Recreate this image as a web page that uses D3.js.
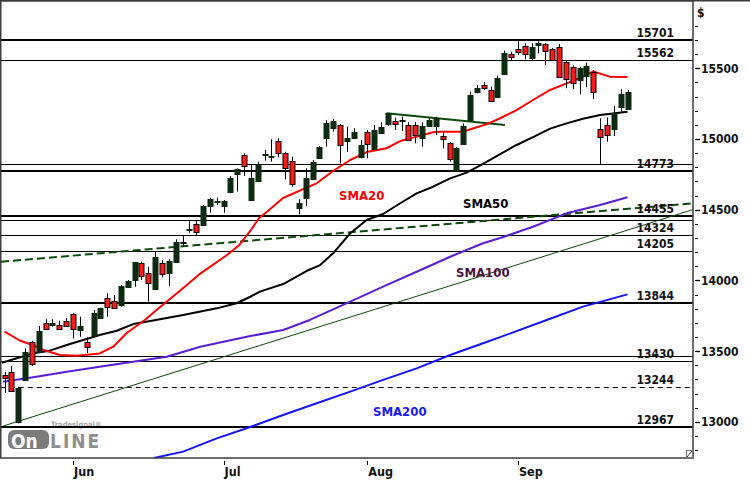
<!DOCTYPE html>
<html><head><meta charset="utf-8">
<script src="https://cdn.jsdelivr.net/npm/d3@7"></script>
<style>
html,body{margin:0;padding:0;background:#fff;}
svg{display:block;}
text{font-family:"DejaVu Sans Condensed","DejaVu Sans",sans-serif;font-stretch:condensed;font-weight:bold;}
</style></head>
<body>
<svg id="c" width="750" height="480"></svg>
<script>
// ---------- data ----------
const opens  = [13332,13355,13001,13296,13567,13496,13697,13683,13685,13714,13763,13655,13567,13615,13733,13874,13857,13827,13956,14000,14121,14051,13945,14121,14051,14133,14274,14357,14397,14392,14522,14557,14529,14628,14751,14887,14569,14706,14887,14875,14986,14899,14845,14515,14590,14722,14864,15005,15080,15099,14980,15009,14875,15048,14930,15048,15104,15127,15135,15099,15099,15009,15094,15087,15024,14970,14781,14965,15135,15335,15382,15347,15299,15458,15601,15637,15658,15578,15660,15670,15634,15649,15547,15511,15417,15446,15476,15069,15099,15069,15229,15217];
const highs  = [13353,13395,13249,13520,13574,13678,13726,13726,13716,13735,13768,13744,13600,13791,13808,13909,13897,13968,14003,14131,14133,14097,14204,14145,14150,14291,14314,14421,14421,14534,14581,14585,14569,14739,14793,14899,14821,14840,14922,14998,15005,14910,14875,14574,14793,14852,14951,15135,15141,15106,15087,15076,14993,15064,15099,15118,15184,15151,15158,15118,15120,15118,15147,15158,15057,14979,14944,15111,15335,15382,15405,15370,15448,15625,15617,15693,15677,15677,15695,15677,15644,15672,15559,15520,15511,15540,15488,15147,15154,15234,15352,15347];
const lows   = [13205,13214,12990,13291,13395,13492,13650,13673,13650,13671,13591,13602,13487,13608,13728,13744,13805,13815,13954,13956,14003,13850,13945,14022,13961,14126,14239,14338,14322,14385,14479,14534,14479,14616,14628,14739,14569,14704,14847,14840,14871,14715,14663,14468,14527,14718,14859,14946,15052,14828,14910,15007,14864,14864,14923,15043,15094,15064,15057,14986,14970,14946,15092,15029,14934,14840,14774,14958,15135,15323,15347,15264,15294,15458,15559,15594,15564,15552,15606,15523,15552,15432,15359,15352,15316,15366,15283,14821,14981,15021,15193,15205];
const closes = [13310,13221,13242,13496,13410,13645,13655,13699,13655,13680,13655,13680,13532,13772,13803,13810,13810,13961,13996,14129,14030,13980,14168,14044,14138,14274,14268,14361,14338,14527,14574,14560,14562,14727,14788,14809,14727,14824,14891,14880,14899,14793,14680,14550,14728,14840,14942,15111,15127,14958,15004,15048,14958,14963,15064,15087,15182,15104,15131,14993,15028,15094,15135,15147,15000,14859,14935,15094,15311,15363,15363,15269,15434,15606,15578,15613,15601,15653,15677,15618,15554,15436,15429,15398,15500,15516,15335,15012,15028,15182,15318,15335];

const monthIdx    = [10, 32, 53, 75];
const monthLabels = ["Jun", "Jul", "Aug", "Sep"];

const sma20Idx = [0,2.3,3.7,5.7,8.1,10.5,13.9,15.9,17.85,20.5,22.2,25.6,28.6,32.5,34.3,35.9,37.2,38.3,40.7,44.1,45.6,48,50.5,52.9,55.8,57.8,60.2,62.6,63.6,67,68.5,70.4,72.4,74.8,77.2,79.7,82.1,84.5,86,88.4,91];
const sma20    = [13638,13574,13551,13509,13473,13468,13484,13532,13629,13721,13791,13926,14049,14180,14251,14350,14442,14484,14583,14657,14687,14774,14852,14908,14935,14986,15017,15048,15052,15052,15076,15104,15147,15205,15276,15347,15394,15441,15478,15441,15439];

const sma50Idx = [-0.4,1.8,4.2,6.6,9.1,11.5,13.9,16.4,18.8,21.3,26.1,31,33.9,35.9,37.3,40.7,44.1,46.1,48,50.5,52.9,55.3,57.8,60.2,62.6,65.1,67.5,69.9,72.4,74.8,77.2,79.7,82.1,84.5,87,91];
const sma50    = [13419,13450,13485,13504,13544,13579,13615,13645,13692,13714,13756,13803,13839,13885,13921,13975,14067,14109,14192,14334,14428,14470,14546,14616,14663,14722,14763,14824,14894,14958,15014,15074,15111,15144,15170,15193];

const sma100Idx = [-0.2,4.2,9.1,13.9,18.8,23.7,28.6,35.9,40.7,44.6,50.5,55.3,60.2,65.1,69.9,72.4,77.2,82.1,87,91];
const sma100    = [13284,13316,13355,13390,13426,13461,13532,13607,13650,13721,13850,13956,14062,14168,14263,14300,14380,14475,14534,14588];

const sma200Idx = [21.8,26.1,31,35.9,40.7,45.6,50.5,55.3,60.2,65.1,69.9,72.4,79.4,84.5,91];
const sma200    = [12745,12790,12884,12964,13049,13132,13214,13297,13379,13473,13556,13600,13724,13815,13902];

const smaNames = ["SMA20", "SMA50", "SMA100", "SMA200"];

// support / resistance levels
const majorLevels  = [15701, 14773, 14455, 13844, 12967];
const minorLevels  = [15562, 14821, 14425, 14324, 14205, 13466, 13430];
const dashedLevels = [13244];
const labelLevels  = [15701, 15562, 14773, 14455, 14324, 14205, 13844, 13430, 13244, 12967];

// trend lines [index, value]
const trendLong  = [[-0.5, 14133], [100.6, 14546]];
const trendThin  = [[-0.2, 12971], [100.6, 14502]];
const trendShort = [[55.8, 15182], [73.1, 15099]];

const majorTicks = [13000, 13500, 14000, 14500, 15000, 15500];
const minorTicks = d3.range(12800, 15801, 100);

// ---------- drawing ----------
const svg = d3.select("#c");
const L = 0.75, R = 693, T = 0.75, B = 458;
const x = d3.scaleLinear().domain([0, 91]).range([4.5, 627.5]);
const y = d3.scaleLinear().domain([12745, 15976]).range([B, 1]);

svg.append("defs").append("clipPath").attr("id", "pc")
  .append("rect").attr("x", L).attr("y", T).attr("width", R - L).attr("height", B - T);

const plot = svg.append("g").attr("clip-path", "url(#pc)");

// watermark logo
const logo = plot.append("g");
logo.append("text").attr("x", 51).attr("y", 427).attr("font-size", 7.5).attr("fill", "#a8a8a8").text("Tradesignal®");
logo.append("rect").attr("x", 8).attr("y", 430).attr("width", 41).attr("height", 19).attr("rx", 6).attr("fill", "#7c7c7c");
logo.append("text").attr("x", 11).attr("y", 447.5).attr("font-size", 19).attr("fill", "#fff").text("On");
logo.append("text").attr("x", 50).attr("y", 447.5).attr("font-size", 19).attr("fill", "#8e8e8e").attr("letter-spacing", 2).text("LINE");

// horizontal levels
const crisp = v => Math.round(y(v)) + 0.5;
plot.selectAll(".lvMaj").data(majorLevels).join("line")
  .attr("x1", L).attr("x2", R).attr("y1", v => Math.round(y(v))).attr("y2", v => Math.round(y(v)))
  .attr("stroke", "#000").attr("stroke-width", 2.2);
plot.selectAll(".lvMin").data(minorLevels).join("line")
  .attr("x1", L).attr("x2", R).attr("y1", crisp).attr("y2", crisp)
  .attr("stroke", "#000").attr("stroke-width", 1);
plot.selectAll(".lvDash").data(dashedLevels).join("line")
  .attr("x1", L).attr("x2", R).attr("y1", crisp).attr("y2", crisp)
  .attr("stroke", "#000").attr("stroke-width", 1).attr("stroke-dasharray", "5,4");

svg.selectAll(".lvLab").data(labelLevels).join("text")
  .attr("x", 674).attr("y", v => Math.round(y(v)) - 3)
  .attr("text-anchor", "end").attr("font-size", 12).attr("fill", "#111")
  .text(v => v);

// trend lines
const tl = d3.line().x(d => x(d[0])).y(d => y(d[1]));
plot.append("path").attr("d", tl(trendThin)).attr("fill", "none").attr("stroke", "#0b4a0b").attr("stroke-width", 1);
plot.append("path").attr("d", tl(trendLong)).attr("fill", "none").attr("stroke", "#0b4a0b").attr("stroke-width", 2).attr("stroke-dasharray", "8,4");
plot.append("path").attr("d", tl(trendShort)).attr("fill", "none").attr("stroke", "#0b4a0b").attr("stroke-width", 2);

// moving averages
const smaLine = d3.line().x(d => x(d[0])).y(d => y(d[1]));
const smaSets = [
  [sma200Idx, sma200, "#1414ff"],
  [sma100Idx, sma100, "#5a1ed2"],
  [sma50Idx, sma50, "#000000"],
  [sma20Idx, sma20, "#ff0000"]
];
smaSets.forEach(([ix, vals, col]) => {
  plot.append("path").attr("d", smaLine(ix.map((k, j) => [k, vals[j]])))
    .attr("fill", "none").attr("stroke", col).attr("stroke-width", 2).attr("stroke-linejoin", "round");
});

// candles
const candles = opens.map((o, i) => ({i, o, h: highs[i], l: lows[i], c: closes[i]}));
const cg = plot.append("g");
cg.selectAll(".wick").data(candles).join("line")
  .attr("x1", d => Math.round(x(d.i)) + 0.5).attr("x2", d => Math.round(x(d.i)) + 0.5)
  .attr("y1", d => y(d.h)).attr("y2", d => y(d.l))
  .attr("stroke", "#000").attr("stroke-width", 1);
cg.selectAll(".body").data(candles).join("rect")
  .attr("x", d => Math.round(x(d.i)) - 2)
  .attr("y", d => Math.round(y(Math.max(d.o, d.c))) + 0.5)
  .attr("width", 5)
  .attr("height", d => Math.max(1, Math.round(Math.abs(y(d.o) - y(d.c)))))
  .attr("fill", d => d.c < d.o ? "#ff1a1a" : "#0c2a10")
  .attr("stroke", d => d.c < d.o ? "#000" : "#0c2a10").attr("stroke-width", 1);

// SMA labels
const smaLabelPos = [[339, 200, "#ff0000"], [463, 208, "#000"], [456, 277, "#4a1046"], [373, 416, "#1a1aff"]];
svg.selectAll(".smaLab").data(smaNames).join("text")
  .attr("x", (d, k) => smaLabelPos[k][0]).attr("y", (d, k) => smaLabelPos[k][1])
  .attr("font-size", 13).attr("fill", (d, k) => smaLabelPos[k][2]).text(d => d);

// frame
svg.append("line").attr("x1", 0).attr("x2", 750).attr("y1", 0.75).attr("y2", 0.75).attr("stroke", "#3c3c3c").attr("stroke-width", 1.5);
svg.append("rect").attr("x", L).attr("y", T).attr("width", R - L).attr("height", B - T)
  .attr("fill", "none").attr("stroke", "#3c3c3c").attr("stroke-width", 1.5);
// resize glyph
svg.append("rect").attr("x", 686.5).attr("y", 450.5).attr("width", 6).attr("height", 7).attr("fill", "#fff").attr("stroke", "#777");
svg.append("line").attr("x1", 687).attr("y1", 457).attr("x2", 692).attr("y2", 451).attr("stroke", "#333");

// right axis
svg.selectAll(".mt").data(minorTicks).join("line")
  .attr("x1", 695).attr("x2", 698).attr("y1", crisp).attr("y2", crisp)
  .attr("stroke", "#000").attr("stroke-width", 1);
svg.selectAll(".Mt").data(majorTicks).join("line")
  .attr("x1", 696).attr("x2", 700).attr("y1", crisp).attr("y2", crisp)
  .attr("stroke", "#000").attr("stroke-width", 1.3);
svg.selectAll(".ml").data(majorTicks).join("text")
  .attr("x", 701).attr("y", v => y(v) + 4.3).attr("font-size", 12).attr("fill", "#111")
  .text(v => v);
svg.append("text").attr("x", 697).attr("y", 17).attr("font-size", 12).attr("fill", "#111").text("$");

// bottom axis
svg.selectAll(".xt").data(monthIdx).join("line")
  .attr("x1", i => Math.round(x(i)) + 0.5).attr("x2", i => Math.round(x(i)) + 0.5)
  .attr("y1", 461).attr("y2", 465).attr("stroke", "#000");
svg.selectAll(".xl").data(monthIdx).join("text")
  .attr("x", i => x(i) + 1).attr("y", 476).attr("font-size", 12.5).attr("fill", "#111")
  .text((i, k) => monthLabels[k]);
</script>
</body></html>
